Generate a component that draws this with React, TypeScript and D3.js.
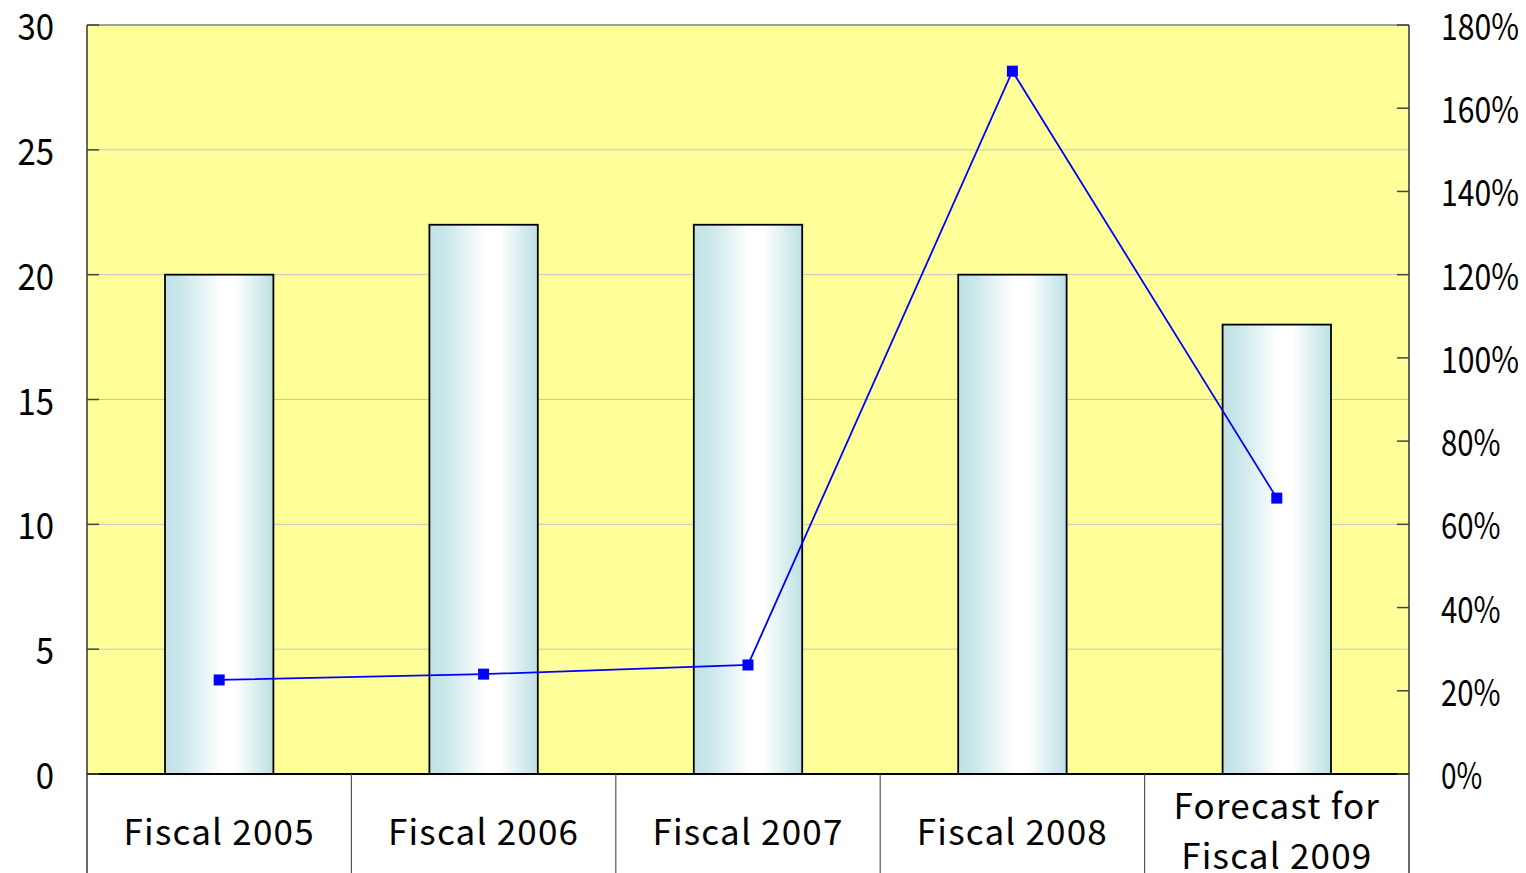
import React from 'react';
import * as d3 from 'd3';

const categories = [['Fiscal 2005'], ['Fiscal 2006'], ['Fiscal 2007'], ['Fiscal 2008'], ['Forecast for', 'Fiscal 2009']];
const barValues = [20, 22, 22, 20, 18];
const ratioValues = [22.6, 24.0, 26.2, 168.9, 66.3];
const leftTicks = [0, 5, 10, 15, 20, 25, 30];
const rightTicks = [0, 20, 40, 60, 80, 100, 120, 140, 160, 180];

const W = 1526, H = 873;
const margin = { top: 25, right: 117, bottom: 99, left: 87 };
const font = '"Noto Sans CJK JP", "Noto Sans", sans-serif';
const digitW = 18.3, pctW = 23;

export default function App() {
  const x0 = margin.left, x1 = W - margin.right;
  const y0 = H - margin.bottom, y1 = margin.top;

  const x = d3.scaleBand<number>().domain(d3.range(categories.length)).range([x0, x1]).paddingInner(0).paddingOuter(0);
  const yL = d3.scaleLinear().domain([0, 30]).range([y0, y1]);
  const yR = d3.scaleLinear().domain([0, 180]).range([y0, y1]);
  const bw = x.bandwidth() * 0.41;

  const line = d3.line<number>()
    .x((d, i) => (x(i) as number) + x.bandwidth() / 2)
    .y(d => yR(d));

  return (
    <svg width={W} height={H} style={{ position: 'absolute', left: 0, top: 0, display: 'block' }} fontFamily={font}>
      <defs>
        <linearGradient id="barGrad" x1="0" x2="1" y1="0" y2="0">
          <stop offset="0" stopColor="#c1e2e5" />
          <stop offset="0.12" stopColor="#c6e5e8" />
          <stop offset="0.52" stopColor="#ffffff" />
          <stop offset="0.64" stopColor="#ffffff" />
          <stop offset="1" stopColor="#bde0e3" />
        </linearGradient>
      </defs>
      <rect x={0} y={0} width={W} height={H} fill="#ffffff" />
      <rect x={x0} y={y1} width={x1 - x0} height={y0 - y1} fill="#ffff99" />
      {leftTicks.filter(t => t > 0 && t < 30).map(t => (
        <line key={'g' + t} x1={x0} x2={x1} y1={yL(t)} y2={yL(t)} stroke="#c8c4c8" strokeWidth={1} />
      ))}
      {barValues.map((v, i) => {
        const cx = (x(i) as number) + x.bandwidth() / 2;
        return (
          <rect key={'b' + i} x={cx - bw / 2} y={yL(v)} width={bw} height={y0 - yL(v)}
            fill="url(#barGrad)" stroke="#000" strokeWidth={1.8} />
        );
      })}
      {/* frame */}
      <line x1={x0} x2={x1} y1={y1} y2={y1} stroke="#808080" strokeWidth={1.5} />
      <line x1={x0} x2={x0} y1={y1} y2={H} stroke="#333" strokeWidth={1.5} />
      <line x1={x1} x2={x1} y1={y1} y2={H} stroke="#333" strokeWidth={1.5} />
      <line x1={x0} x2={x1} y1={y0} y2={y0} stroke="#000" strokeWidth={2} />
      {d3.range(1, categories.length).map(i => (
        <line key={'s' + i} x1={x(i) as number} x2={x(i) as number} y1={y0} y2={H} stroke="#555" strokeWidth={1.2} />
      ))}
      {/* left axis */}
      {leftTicks.map(t => (
        <g key={'l' + t}>
          <line x1={x0} x2={x0 + 12} y1={yL(t)} y2={yL(t)} stroke="#444" strokeWidth={1.5} />
          <text x={54} y={yL(t) + 5} textAnchor="end" dominantBaseline="middle" fontSize={37} fill="#000"
            textLength={String(t).length * digitW} lengthAdjust="spacingAndGlyphs">{t}</text>
        </g>
      ))}
      {/* right axis */}
      {rightTicks.map(t => (
        <g key={'r' + t}>
          <line x1={x1 - 12} x2={x1} y1={yR(t)} y2={yR(t)} stroke="#444" strokeWidth={1.5} />
          <text x={1441} y={yR(t) + 5} textAnchor="start" dominantBaseline="middle" fontSize={37} fill="#000"
            textLength={String(t).length * digitW + pctW} lengthAdjust="spacingAndGlyphs">{t + '%'}</text>
        </g>
      ))}
      {/* categories */}
      {categories.map((c, i) => {
        const cx = (x(i) as number) + x.bandwidth() / 2;
        const start = c.length === 1 ? 835 : 809;
        return (
          <text key={'c' + i} textAnchor="middle" fontSize={35} fill="#000" letterSpacing={1.2}>
            {c.map((s, j) => (
              <tspan key={j} x={cx} y={start + j * 50} dominantBaseline="middle">{s}</tspan>
            ))}
          </text>
        );
      })}
      {/* ratio line */}
      <path d={line(ratioValues) || ''} fill="none" stroke="#0000ff" strokeWidth={1.8} />
      {ratioValues.map((v, i) => {
        const cx = (x(i) as number) + x.bandwidth() / 2;
        return <rect key={'m' + i} x={cx - 5.5} y={yR(v) - 5.5} width={11} height={11} fill="#0000ff" />;
      })}
    </svg>
  );
}
